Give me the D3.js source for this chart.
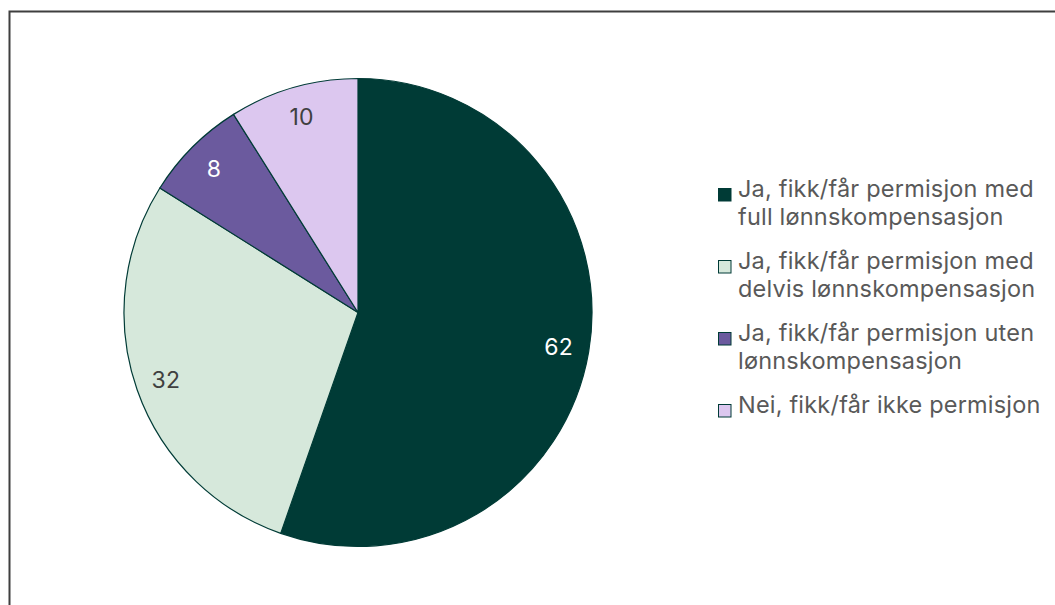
<!DOCTYPE html>
<html><head><meta charset="utf-8">
<script src="https://cdn.jsdelivr.net/npm/d3@7"></script>
<style>body{margin:0;background:#fff;}svg{display:block;}</style>
</head><body><svg id="c" width="1055" height="605"></svg>
<script>
const categories = [
  ["Ja, fikk/får permisjon med", "full lønnskompensasjon"],
  ["Ja, fikk/får permisjon med", "delvis lønnskompensasjon"],
  ["Ja, fikk/får permisjon uten", "lønnskompensasjon"],
  ["Nei, fikk/får ikke permisjon"]
];
const values = [62, 32, 8, 10];
const colors = ["#003b36", "#d6e8db", "#6b5a9e", "#dcc7ef"];
const labelColors = ["#ffffff", "#404040", "#ffffff", "#404040"];

const svg = d3.select("#c");
const W = 1055, H = 605;
svg.append("path").attr("d", `M9.5,${H} L9.5,11.5 L${W},11.5`).attr("fill","none").attr("stroke","#3f3f3f").attr("stroke-width",2);

const cx = 358, cy = 312.5, r = 234;
const pie = d3.pie().sort(null).value(d => d)(values);
const arc = d3.arc().innerRadius(0).outerRadius(r);
const g = svg.append("g").attr("transform", `translate(${cx},${cy})`);
g.selectAll("path").data(pie).join("path")
  .attr("d", arc).attr("fill", (d,i) => colors[i])
  .attr("stroke", "#003b36").attr("stroke-width", 1.2).attr("stroke-linejoin","round");
const lab = d3.arc().innerRadius(r*0.87).outerRadius(r*0.87);
g.selectAll("text").data(pie).join("text")
  .attr("x", d => lab.centroid(d)[0]).attr("y", d => lab.centroid(d)[1])
  .attr("text-anchor","middle").attr("dominant-baseline","central")
  .attr("font-family","Inter, 'Noto Sans', sans-serif").attr("font-size",23).attr("letter-spacing",0.2)
  .attr("fill", (d,i) => labelColors[i]).text(d => d.data);

const lg = svg.append("g");
let y = 197;
categories.forEach((lines, i) => {
  lg.append("rect").attr("x", 718.5).attr("y", y - 8.5).attr("width", 12.5).attr("height", 12.5)
    .attr("fill", colors[i]).attr("stroke", "#003b36").attr("stroke-width", 1);
  const t = lg.append("text").attr("x", 738).attr("y", y)
    .attr("font-family","Inter, 'Noto Sans', sans-serif").attr("font-size",23.5).attr("letter-spacing",0.2).attr("fill","#595959");
  lines.forEach((l, j) => t.append("tspan").attr("x", 738).attr("y", y + j*28).text(l));
  y += (lines.length - 1)*28 + 44 + (lines.length === 1 ? 28 : 0);
});
</script></body></html>
